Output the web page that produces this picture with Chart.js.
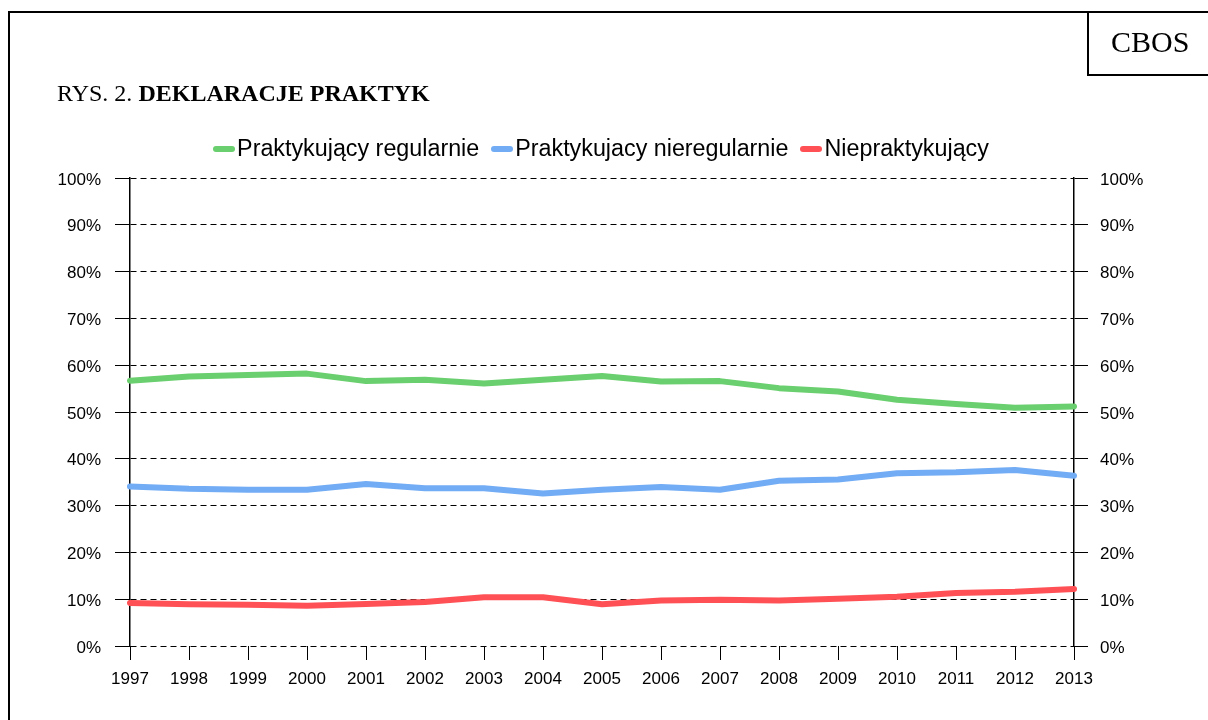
<!DOCTYPE html>
<html>
<head>
<meta charset="utf-8">
<script src="https://cdn.jsdelivr.net/npm/chart.js@4.4.1/dist/chart.umd.min.js"></script>
<style>
  body { margin: 0; background: #fff; }
  #wrap { position: relative; width: 1208px; height: 720px; overflow: hidden; }
  #frame { position: absolute; left: 8px; top: 11px; width: 1300px; height: 800px; border: 2px solid #000; box-sizing: border-box; }
  #logo { position: absolute; left: 1087px; top: 11px; width: 200px; height: 65px; border: 2px solid #000; box-sizing: border-box; }
  #logo span { position: absolute; left: 22px; top: 12px; font: 30px "Liberation Serif", "Times New Roman", serif; }
  #title { position: absolute; left: 57px; top: 80px; font: 24px "Liberation Serif", "Times New Roman", serif; white-space: nowrap; }
  #legend { position: absolute; left: 0; width: 1202px; top: 135px; display: flex; justify-content: center; font: 23.3px "Liberation Sans", Arial, sans-serif; }
  #legend .item { display: flex; align-items: center; margin: 0 6px; }
  #legend .mark { width: 22px; height: 6px; border-radius: 3px; margin-right: 2px; }
  canvas { position: absolute; left: 0; top: 0; }
</style>
</head>
<body>
<div id="wrap">
  <canvas id="chart" width="1208" height="720"></canvas>
  <div id="frame"></div>
  <div id="logo"><span>CBOS</span></div>
  <div id="title">RYS. 2. <b>DEKLARACJE PRAKTYK</b></div>
  <div id="legend"></div>
</div>
<script>
var years = ['1997','1998','1999','2000','2001','2002','2003','2004','2005','2006','2007','2008','2009','2010','2011','2012','2013'];
var regularnie = [56.7, 57.6, 57.9, 58.2, 56.6, 56.9, 56.1, 56.9, 57.7, 56.5, 56.6, 55.1, 54.4, 52.6, 51.7, 50.9, 51.2];
var nieregularnie = [34.1, 33.6, 33.4, 33.4, 34.6, 33.7, 33.7, 32.6, 33.4, 34.0, 33.4, 35.3, 35.6, 36.9, 37.1, 37.6, 36.4];
var niepraktykujacy = [9.2, 8.9, 8.8, 8.6, 9.0, 9.4, 10.4, 10.4, 8.9, 9.7, 9.9, 9.7, 10.1, 10.5, 11.3, 11.6, 12.2];
var seriesNames = ['Praktykujący regularnie', 'Praktykujacy nieregularnie', 'Niepraktykujący'];
var seriesColors = ['#6acf6e', '#72acf5', '#ff5155'];
var yTicks = [0, 10, 20, 30, 40, 50, 60, 70, 80, 90, 100];

var tickFont = { family: '"Liberation Sans", Arial, sans-serif', size: 17 };

function makeSet(i, data) {
  return {
    label: seriesNames[i],
    data: data,
    borderColor: seriesColors[i],
    backgroundColor: seriesColors[i],
    borderWidth: 6,
    pointRadius: 0,
    tension: 0,
    borderJoinStyle: 'round',
    borderCapStyle: 'round',
  };
}

var ctx = document.getElementById('chart').getContext('2d');
var myChart = new Chart(ctx, {
  type: 'line',
  data: {
    labels: years,
    datasets: [makeSet(0, regularnie), makeSet(1, nieregularnie), makeSet(2, niepraktykujacy)],
  },
  options: {
    responsive: false,
    animation: false,
    layout: { padding: { top: 178, left: 0, right: 0, bottom: 0 } },
    plugins: { legend: { display: false }, tooltip: { enabled: false } },
    scales: {
      x: {
        offset: false,
        grid: { drawOnChartArea: false, drawTicks: true, tickLength: 14, tickColor: '#000', tickWidth: 1 },
        border: { display: false },
        ticks: { color: '#000', font: tickFont, padding: 9, maxRotation: 0, autoSkip: false },
        afterFit: function (s) { s.height = 74; },
      },
      y: {
        position: 'left',
        min: 0,
        max: 100,
        afterBuildTicks: function (s) { s.ticks = yTicks.map(function (v) { return { value: v }; }); },
        ticks: { color: '#000', font: tickFont, padding: 14, labelOffset: 2, callback: function (v) { return v + '%'; } },
        grid: { color: '#000', lineWidth: 1, tickLength: 15, tickColor: '#000' },
        border: { display: true, color: '#000', width: 1.5, dash: [6, 4] },
        afterFit: function (s) { s.width = 130; },
      },
      y2: {
        position: 'right',
        min: 0,
        max: 100,
        afterBuildTicks: function (s) { s.ticks = yTicks.map(function (v) { return { value: v }; }); },
        ticks: { color: '#000', font: tickFont, padding: 12, labelOffset: 2, callback: function (v) { return v + '%'; } },
        grid: { drawOnChartArea: false, tickLength: 14, tickColor: '#000' },
        border: { display: true, color: '#000', width: 1.5 },
        afterFit: function (s) { s.width = 134; },
      },
    },
  },
});

// legend from the datasets
var leg = document.getElementById('legend');
myChart.data.datasets.forEach(function (ds) {
  var item = document.createElement('div');
  item.className = 'item';
  var mark = document.createElement('span');
  mark.className = 'mark';
  mark.style.background = ds.borderColor;
  item.appendChild(mark);
  item.appendChild(document.createTextNode(ds.label));
  leg.appendChild(item);
});
</script>
</body>
</html>
